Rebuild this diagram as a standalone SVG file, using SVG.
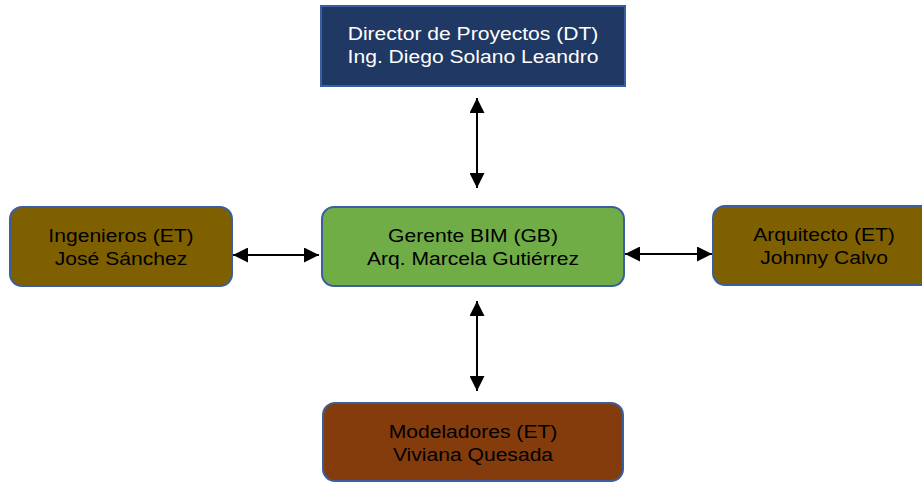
<svg xmlns="http://www.w3.org/2000/svg" width="922" height="482" viewBox="0 0 922 482">
<defs>
<style>
.box{stroke:#3A5F9F;stroke-width:2}
.t{font-family:"Liberation Sans",Arial,sans-serif;font-size:18.5px;text-anchor:middle}
.dark{fill:#000}
.light{fill:#fff}
.conn{stroke:#000;stroke-width:2;fill:none}
</style>
<marker id="ah" viewBox="0 0 10 10" refX="10" refY="5" markerWidth="7.5" markerHeight="7.5" orient="auto-start-reverse" markerUnits="strokeWidth">
<path d="M0,0 L10,5 L0,10 Z" fill="#000"/>
</marker>
</defs>
<rect width="922" height="482" fill="#fff"/>
<g id="director">
<rect class="box" x="321" y="6" width="304" height="80" fill="#1F3864"/>
<g transform="translate(473,0) scale(1.14 1)">
<text class="t light" x="0" y="40">Director de Proyectos (DT)</text>
<text class="t light" x="0" y="63">Ing. Diego Solano Leandro</text>
</g>
</g>
<g id="gerente">
<rect class="box" x="322" y="207" width="302" height="79" rx="12" fill="#70AD47"/>
<g transform="translate(473,0) scale(1.14 1)">
<text class="t dark" x="0" y="242">Gerente BIM (GB)</text>
<text class="t dark" x="0" y="265">Arq. Marcela Gutiérrez</text>
</g>
</g>
<g id="ingenieros">
<rect class="box" x="10" y="207" width="222" height="79" rx="12" fill="#7F6000"/>
<g transform="translate(121,0) scale(1.14 1)">
<text class="t dark" x="0" y="242">Ingenieros (ET)</text>
<text class="t dark" x="0" y="265">José Sánchez</text>
</g>
</g>
<g id="arquitecto">
<rect class="box" x="713" y="206" width="222" height="79" rx="12" fill="#7F6000"/>
<g transform="translate(824,0) scale(1.14 1)">
<text class="t dark" x="0" y="241">Arquitecto (ET)</text>
<text class="t dark" x="0" y="264">Johnny Calvo</text>
</g>
</g>
<g id="modeladores">
<rect class="box" x="323" y="403" width="300" height="78" rx="12" fill="#843C0C"/>
<g transform="translate(473,0) scale(1.14 1)">
<text class="t dark" x="0" y="438">Modeladores (ET)</text>
<text class="t dark" x="0" y="461">Viviana Quesada</text>
</g>
</g>
<g id="connectors">
<line class="conn" x1="477" y1="98" x2="477" y2="188" marker-start="url(#ah)" marker-end="url(#ah)"/>
<line class="conn" x1="477" y1="301" x2="477" y2="391" marker-start="url(#ah)" marker-end="url(#ah)"/>
<line class="conn" x1="233" y1="255" x2="319" y2="255" marker-start="url(#ah)" marker-end="url(#ah)"/>
<line class="conn" x1="625" y1="254" x2="712" y2="254" marker-start="url(#ah)" marker-end="url(#ah)"/>
</g>
</svg>
